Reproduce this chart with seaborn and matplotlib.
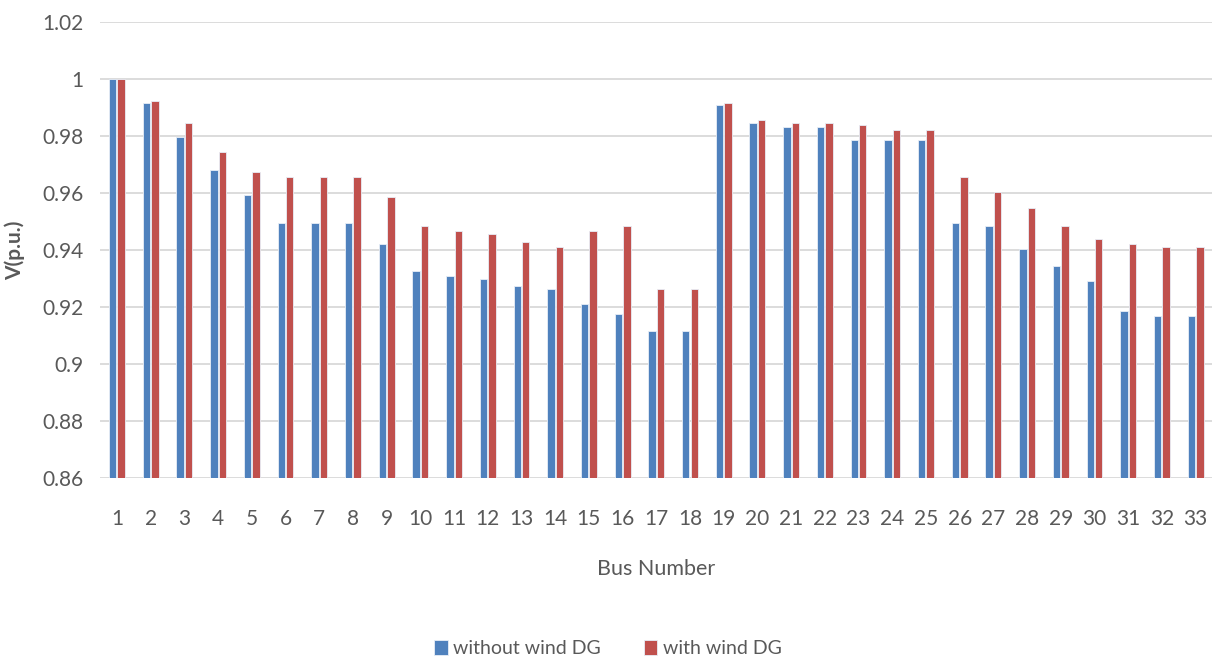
import pandas as pd
import seaborn as sns
import matplotlib.pyplot as plt

# valores
buses = list(range(1, 34))
v_without = [1.000, 0.9915, 0.9796, 0.968, 0.9594, 0.9495, 0.9495, 0.9495, 0.942, 0.9325,
             0.9307, 0.9299, 0.9272, 0.9264, 0.9211, 0.9175, 0.9114, 0.9114, 0.9907, 0.9847,
             0.983, 0.983, 0.9786, 0.9786, 0.9786, 0.9494, 0.9485, 0.9402, 0.9342, 0.9291,
             0.9187, 0.917, 0.917]
v_with = [1.000, 0.9924, 0.9847, 0.9742, 0.9673, 0.9655, 0.9655, 0.9655, 0.9586, 0.9483,
          0.9466, 0.9457, 0.9429, 0.9412, 0.9466, 0.9483, 0.9264, 0.9264, 0.9916, 0.9856,
          0.9847, 0.9847, 0.9838, 0.9822, 0.9822, 0.9656, 0.9604, 0.9548, 0.9485, 0.9439,
          0.9421, 0.9412, 0.9412]
series = ["without wind DG", "with wind DG"]
cores = ["#4F81BD", "#C0504D"]

df = pd.DataFrame({
    "bus": [str(b) for b in buses] * 2,
    "V": v_without + v_with,
    "caso": [series[0]] * len(buses) + [series[1]] * len(buses),
})

sns.set_style("white")
plt.rcParams["font.family"] = ["Lato", "DejaVu Sans"]

fig = plt.figure(figsize=(12.21, 6.63), dpi=100)
ax = fig.add_axes([0.082, 0.279, 0.911, 0.688])

sns.barplot(data=df, x="bus", y="V", hue="caso", palette=cores, saturation=1,
            width=0.5, gap=0.12, edgecolor="#e8eef7", linewidth=0.6, ax=ax, legend=True)

ax.set_ylim(0.86, 1.02)
ax.set_xlim(-0.5, 32.5)
ax.set_yticks([0.86, 0.88, 0.90, 0.92, 0.94, 0.96, 0.98, 1.00, 1.02])
ax.set_yticklabels(["0.86", "0.88", "0.9", "0.92", "0.94", "0.96", "0.98", "1", "1.02"])
ax.yaxis.grid(True, color="#d9d9d9", linewidth=1.3)
ax.set_axisbelow(True)
for s in ax.spines.values():
    s.set_visible(False)
ax.tick_params(axis="both", length=0, labelsize=15, labelcolor="#595959", pad=12)
ax.tick_params(axis="x", pad=22)

ax.set_xlabel("Bus Number", fontsize=15.5, color="#595959", labelpad=22)
ax.set_ylabel("V(p.u.)", fontsize=15, color="#595959", fontweight="bold", labelpad=12)

# legenda centrada na figura, em baixo
handles, labels = ax.get_legend_handles_labels()
ax.get_legend().remove()
leg = fig.legend(handles, labels, loc="center", bbox_to_anchor=(0.498, 0.022), ncol=2,
                 frameon=False, fontsize=14, handlelength=0.7, handleheight=0.8,
                 handletextpad=0.3, columnspacing=2.2)
for t in leg.get_texts():
    t.set_color("#595959")

fig.savefig("out.png", dpi=100)
